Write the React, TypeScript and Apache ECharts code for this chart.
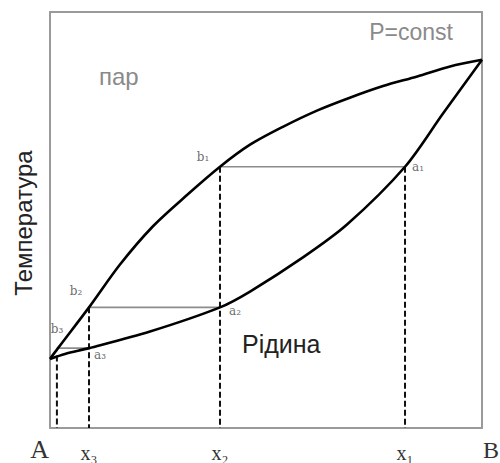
import React, { useEffect, useRef } from "react";
import * as echarts from "echarts";

// Mole fraction of B (0 = pure A, 1 = pure B) and temperature (arbitrary units 0..100)
const vaporX = [0, 0.0185, 0.0903, 0.162, 0.2384, 0.3171, 0.3935, 0.463, 0.539, 0.618, 0.694, 0.771, 0.85, 0.926, 1];
const vaporT = [16.6, 19.2, 29.0, 39.3, 48.5, 56.0, 62.8, 68.1, 72.4, 76.3, 79.4, 82.2, 84.5, 86.9, 88.5];

const liquidX = [0, 0.0347, 0.0903, 0.2315, 0.3935, 0.463, 0.5856, 0.6875, 0.8218, 0.9097, 1];
const liquidT = [16.6, 17.8, 19.2, 23.2, 29.0, 32.8, 41.0, 48.9, 62.8, 75.6, 88.5];

// Tie lines b_i — a_i
const tieT = [62.8, 29.0, 19.2];
const tieVaporX = [0.3935, 0.0903, 0.0185];
const tieLiquidX = [0.8218, 0.3935, 0.0903];
const pointNames = ["1", "2", "3"];

// Dashed drop lines down to the composition axis
const dropX = [0.016, 0.0903, 0.3935, 0.8218];
const dropTop = [17.4, 29.0, 62.8, 62.8];

// Composition tick labels
const tickX = [0.0903, 0.3935, 0.8218];
const tickLabels = ["x₃", "x₂", "x₁"];

const subs: Record<string, string> = { "1": "₁", "2": "₂", "3": "₃" };

const frameLine = { show: true, onZero: false, lineStyle: { color: "#9a9a9a", width: 2 } };

export default function App() {
  const ref = useRef<HTMLDivElement>(null);

  useEffect(() => {
    if (!ref.current) return;
    const chart = echarts.init(ref.current, null, { renderer: "svg" });

    const curve = (xs: number[], ts: number[]) => xs.map((x, i) => [x, ts[i]]);

    const series: any[] = [];

    // tie lines (thin grey)
    tieT.forEach((t, i) => {
      series.push({
        type: "line",
        data: [[tieVaporX[i], t], [tieLiquidX[i], t]],
        symbol: "none",
        lineStyle: { color: "#8c8c8c", width: 1.6 },
        z: 2,
      });
    });

    // dashed verticals
    dropX.forEach((x, i) => {
      series.push({
        type: "line",
        data: [[x, dropTop[i]], [x, 0]],
        symbol: "none",
        lineStyle: { color: "#111", width: 2, type: [6, 3] },
        z: 3,
      });
    });

    // dew (vapour) curve and boiling (liquid) curve
    series.push({
      type: "line",
      data: curve(vaporX, vaporT),
      symbol: "none",
      smooth: 0.3,
      lineStyle: { color: "#000", width: 2.6 },
      z: 5,
    });
    series.push({
      type: "line",
      data: curve(liquidX, liquidT),
      symbol: "none",
      smooth: 0.3,
      lineStyle: { color: "#000", width: 2.6 },
      z: 5,
    });

    // point labels b_i / a_i
    const bOffsets = [[-17, -10], [-13, -16], [-1, -19]];
    const aOffsets = [[13, 0], [15, 4], [11, 7]];
    const labelData: any[] = [];
    tieT.forEach((t, i) => {
      labelData.push({
        value: [tieVaporX[i], t],
        label: { formatter: "b" + subs[pointNames[i]], offset: bOffsets[i] },
      });
      labelData.push({
        value: [tieLiquidX[i], t],
        label: { formatter: "a" + subs[pointNames[i]], offset: aOffsets[i] },
      });
    });
    series.push({
      type: "scatter",
      data: labelData,
      symbolSize: 0,
      label: {
        show: true,
        position: "inside",
        fontFamily: "DejaVu Serif",
        fontSize: 12,
        color: "#444",
      },
      z: 6,
    });

    const hiddenAxis = {
      axisTick: { show: false },
      splitLine: { show: false },
      axisLabel: { show: false },
    };

    chart.setOption({
      animation: false,
      grid: { left: 50, right: 18, top: 12, bottom: 24 },
      xAxis: [
        {
          type: "value",
          position: "bottom",
          min: 0,
          max: 1,
          axisLine: frameLine,
          axisTick: { show: false },
          splitLine: { show: false },
          axisLabel: {
            show: true,
            customValues: tickX,
            formatter: (v: number) => {
              const i = tickX.findIndex((t) => Math.abs(t - v) < 1e-6);
              return i >= 0 ? tickLabels[i] : "";
            },
            fontFamily: "Liberation Serif",
            fontSize: 20,
            color: "#333",
            margin: 15,
          },
        },
        { type: "value", position: "top", min: 0, max: 1, axisLine: frameLine, ...hiddenAxis },
      ],
      yAxis: [
        { type: "value", position: "left", min: 0, max: 100, axisLine: frameLine, ...hiddenAxis },
        { type: "value", position: "right", min: 0, max: 100, axisLine: frameLine, ...hiddenAxis },
      ],
      graphic: [
        {
          type: "text",
          x: 23,
          y: 223,
          rotation: Math.PI / 2,
          style: {
            text: "Температура",
            font: "24px 'Liberation Sans'",
            fill: "#222",
            align: "center",
            verticalAlign: "middle",
          },
        },
        {
          type: "text",
          x: 99,
          y: 76,
          style: {
            text: "пар",
            font: "24px 'Liberation Sans'",
            fill: "#8a8a8a",
            align: "left",
            verticalAlign: "middle",
          },
        },
        {
          type: "text",
          x: 453,
          y: 32,
          style: {
            text: "P=const",
            font: "23px 'Liberation Sans'",
            fill: "#8a8a8a",
            align: "right",
            verticalAlign: "middle",
          },
        },
        {
          type: "text",
          x: 242,
          y: 344,
          style: {
            text: "Рідина",
            font: "25px 'Liberation Sans'",
            fill: "#222",
            align: "left",
            verticalAlign: "middle",
          },
        },
        {
          type: "text",
          x: 49,
          y: 462,
          style: {
            text: "A",
            font: "26px 'Liberation Serif'",
            fill: "#333",
            align: "right",
            verticalAlign: "bottom",
          },
        },
        {
          type: "text",
          x: 483,
          y: 462,
          style: {
            text: "B",
            font: "24px 'Liberation Serif'",
            fill: "#333",
            align: "left",
            verticalAlign: "bottom",
          },
        },
      ],
      series,
    });

    return () => chart.dispose();
  }, []);

  return (
    <div
      ref={ref}
      style={{ position: "fixed", left: 0, top: 0, width: 500, height: 463, background: "#fff" }}
    />
  );
}
